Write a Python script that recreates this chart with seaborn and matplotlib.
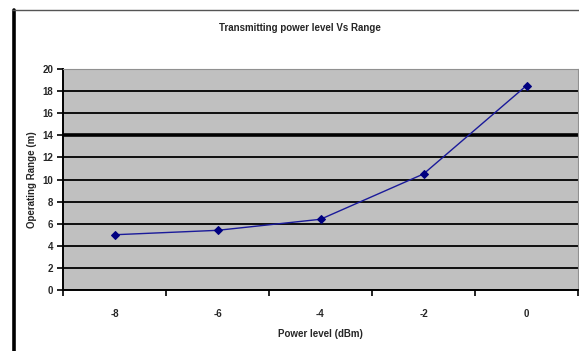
import matplotlib
matplotlib.use("Agg")
import matplotlib.pyplot as plt
from matplotlib.lines import Line2D
from matplotlib.ticker import FixedLocator, MultipleLocator
import seaborn as sns
import pandas as pd

power_levels = ["-8", "-6", "-4", "-2", "0"]
operating_range = [5.0, 5.4, 6.4, 10.5, 18.5]
title = "Transmitting power level Vs Range"
x_label = "Power level (dBm)"
y_label = "Operating Range (m)"

df = pd.DataFrame({"power": power_levels, "range": operating_range})

sns.set_theme(style="white")
plt.rcParams["font.family"] = ["Liberation Sans", "DejaVu Sans"]

W, H = 579, 351
fig = plt.figure(figsize=(W / 100, H / 100), dpi=100)
ax = fig.add_axes([63 / W, 1 - 290 / H, 515 / W, 221 / H])
ax.set_facecolor("#c0c0c0")

sns.lineplot(data=df, x="power", y="range", sort=False, ax=ax,
             color="#1a1a9a", linewidth=1.0, marker="D", markersize=4,
             markeredgecolor="#000080", markerfacecolor="#000080")

ax.set_xlim(-0.5, 4.5)
ax.set_ylim(0, 20)
ax.yaxis.set_major_locator(MultipleLocator(2))
ax.grid(axis="y", color="black", linewidth=1.3)
ax.grid(axis="x", visible=False)
ax.set_axisbelow(True)
ax.axhline(14, color="black", linewidth=2.6, zorder=0.6)

ax.xaxis.set_minor_locator(FixedLocator([i - 0.5 for i in range(len(power_levels) + 1)]))
ax.tick_params(axis="x", which="major", length=0, pad=14, labelsize=7)
ax.tick_params(axis="x", which="minor", length=4, width=1.2, color="black", direction="out", bottom=True)
ax.tick_params(axis="y", which="major", length=4, width=1.2, color="black", direction="out", left=True, pad=3, labelsize=7)
for lbl in ax.get_xticklabels() + ax.get_yticklabels():
    lbl.set_fontweight("bold")

for side in ["top", "right"]:
    ax.spines[side].set_visible(True)
    ax.spines[side].set_color("#909090")
    ax.spines[side].set_linewidth(0.8)
for side in ["left", "bottom"]:
    ax.spines[side].set_color("black")
    ax.spines[side].set_linewidth(1.4)

ax.set_xlabel(x_label, fontsize=7, fontweight="bold", labelpad=7)
ax.set_ylabel(y_label, fontsize=7, fontweight="bold", labelpad=4)
fig.text(300 / W, 1 - 28 / H, title, ha="center", va="center",
         fontsize=7, fontweight="bold")

# outer chart frame
fig.add_artist(Line2D([13.5 / W, 13.5 / W], [0, 1 - 10 / H], transform=fig.transFigure,
                      color="black", linewidth=2.6))
fig.add_artist(Line2D([12 / W, 1], [1 - 10 / H, 1 - 10 / H], transform=fig.transFigure,
                      color="#555555", linewidth=1.0))

fig.savefig("out.png", dpi=100, facecolor="white")
